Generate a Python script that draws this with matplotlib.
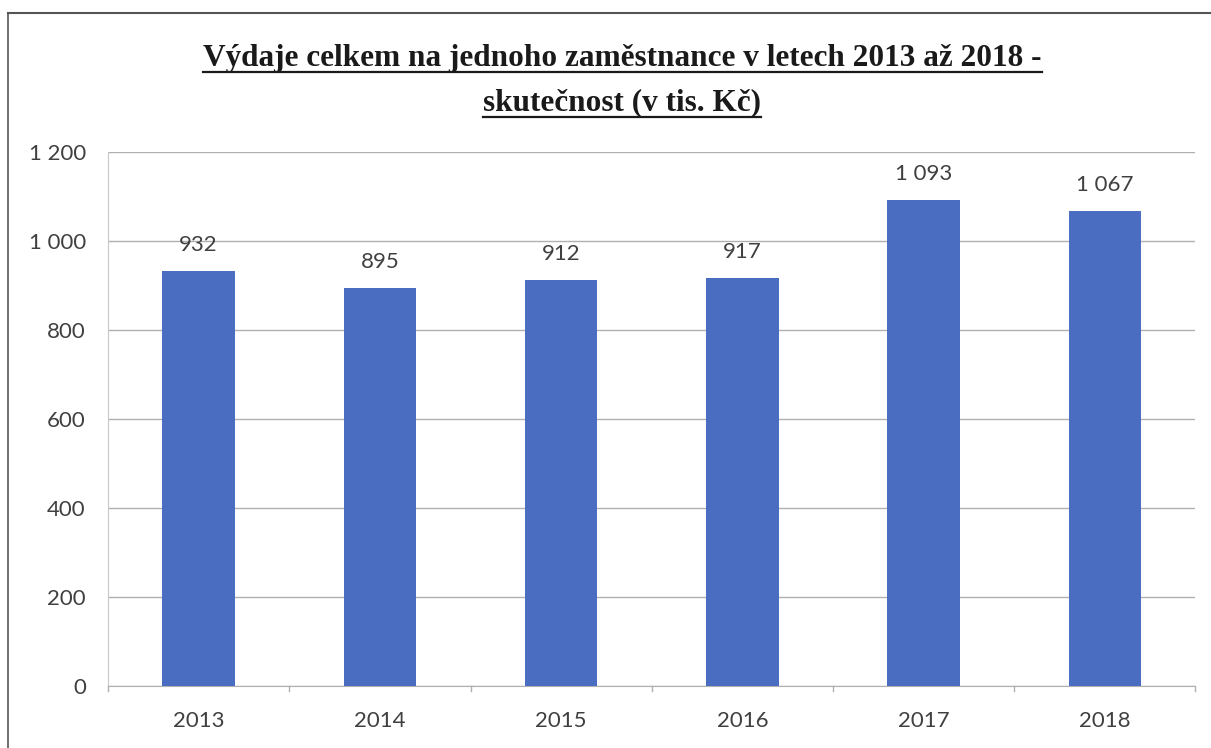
import matplotlib.pyplot as plt
from matplotlib.lines import Line2D
from matplotlib.ticker import FuncFormatter

years = ["2013", "2014", "2015", "2016", "2017", "2018"]
values = [932, 895, 912, 917, 1093, 1067]
yticks = [0, 200, 400, 600, 800, 1000, 1200]

bar_color = "#4a6dc1"
text_color = "#404040"


def thousands(v, pos=None):
    return "{:,.0f}".format(v).replace(",", " ")


fig = plt.figure(figsize=(12.11, 7.48), dpi=100)
ax = fig.add_axes([0.0892, 0.0829, 0.898, 0.7139])

x = list(range(len(years)))
bars = ax.bar(x, values, width=0.4, color=bar_color, zorder=3)

for xi, v in zip(x, values):
    ax.text(xi, v + 45, thousands(v), ha="center", va="baseline",
            fontsize=16, color=text_color, family="Lato", zorder=4)

ax.set_xlim(-0.5, len(years) - 0.5)
ax.set_ylim(0, 1200)
ax.set_yticks(yticks)
ax.yaxis.set_major_formatter(FuncFormatter(thousands))
ax.set_xticks(x)
ax.set_xticklabels(years)

ax.grid(axis="y", color="#b0b0b0", linewidth=1, zorder=0)
for side in ["top", "right"]:
    ax.spines[side].set_visible(False)
ax.spines["left"].set_color("#c8c8c8")
ax.spines["bottom"].set_color("#b0b0b0")

ax.tick_params(axis="y", length=0, pad=16, labelsize=16, labelcolor=text_color)
ax.tick_params(axis="x", length=0, pad=18, labelsize=16, labelcolor=text_color)
for lab in ax.get_xticklabels() + ax.get_yticklabels():
    lab.set_family("Lato")

# small separators between categories
for b in range(len(years) + 1):
    ax.plot([b - 0.5, b - 0.5], [0, -12], color="#b0b0b0", lw=1,
            clip_on=False, zorder=2)

# title, underlined
t1 = fig.text(0.514, 0.912, "Výdaje celkem na jednoho zaměstnance v letech 2013 až 2018 -",
              ha="center", va="baseline", fontsize=22.5, fontweight="bold",
              family="Liberation Serif", color="#1a1a1a")
t2 = fig.text(0.514, 0.852, "skutečnost (v tis. Kč)",
              ha="center", va="baseline", fontsize=22.5, fontweight="bold",
              family="Liberation Serif", color="#1a1a1a")

fig.canvas.draw()
r = fig.canvas.get_renderer()
inv = fig.transFigure.inverted()
for t in [t1, t2]:
    bb = t.get_window_extent(renderer=r)
    (x0, y0), (x1, y1) = inv.transform([[bb.x0, bb.y0], [bb.x1, bb.y1]])
    base = t.get_position()[1] - 0.008
    fig.add_artist(Line2D([x0, x1], [base, base], color="#1a1a1a", lw=1.6,
                          transform=fig.transFigure))

# outer frame of the scanned chart
fig.add_artist(Line2D([0.007, 0.007], [0.0, 0.982], color="#555555", lw=1.2,
                      transform=fig.transFigure))
fig.add_artist(Line2D([0.007, 1.0], [0.982, 0.982], color="#555555", lw=1.5,
                      transform=fig.transFigure))

fig.savefig("out.png", dpi=100)
